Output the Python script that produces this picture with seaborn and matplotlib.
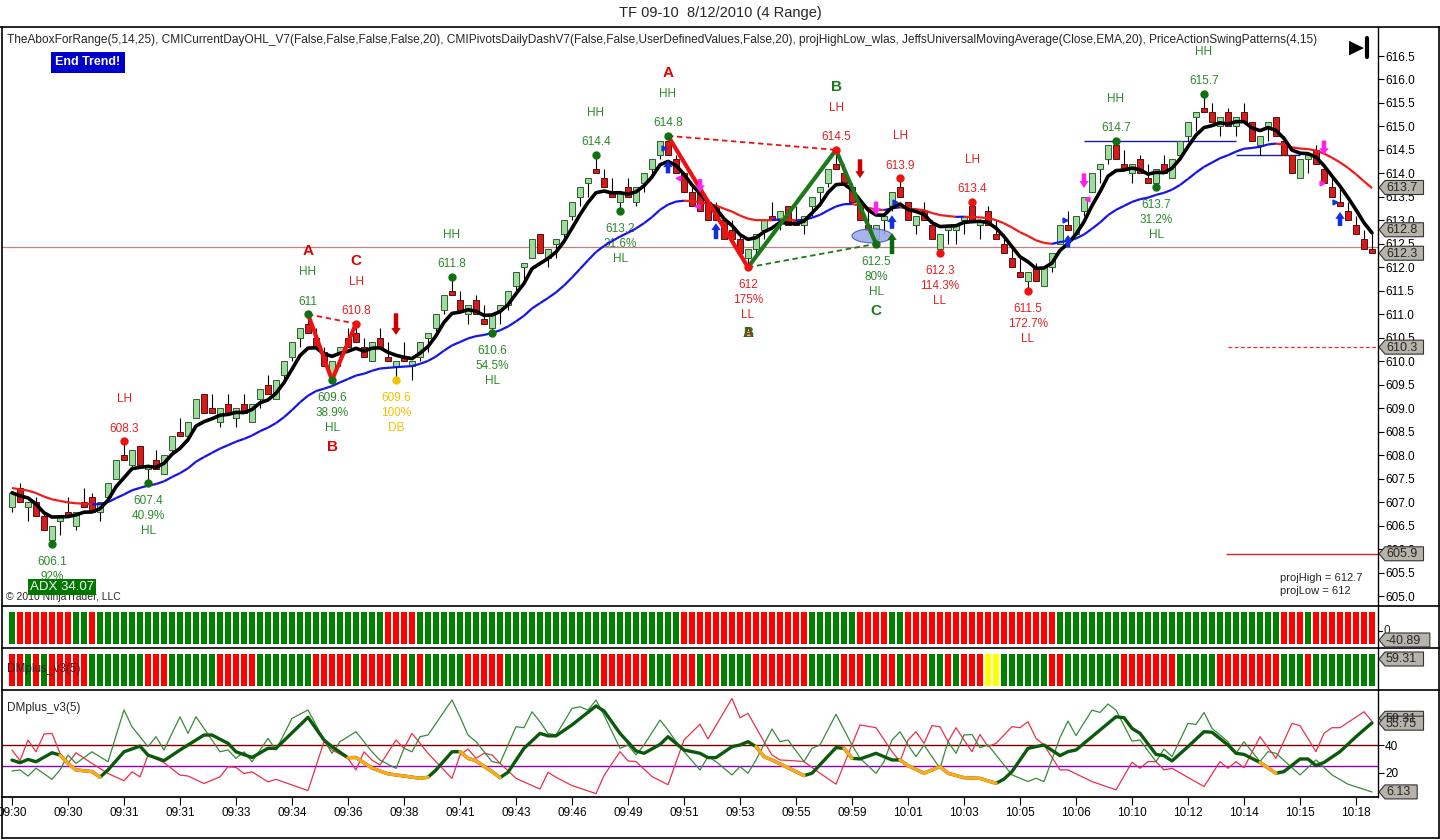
import numpy as np
import pandas as pd
import matplotlib
matplotlib.use("Agg")
import matplotlib.pyplot as plt
import seaborn as sns
from matplotlib.collections import LineCollection
from matplotlib.patches import Ellipse, Polygon
from matplotlib.lines import Line2D

# ---------------- data ----------------
title = "TF 09-10  8/12/2010 (4 Range)"
indicators = ("TheAboxForRange(5,14,25), CMICurrentDayOHL_V7(False,False,False,False,20), "
              "CMIPivotsDailyDashV7(False,False,UserDefinedValues,False,20), projHighLow_wlas, "
              "JeffsUniversalMovingAverage(Close,EMA,20), PriceActionSwingPatterns(4,15)")

RANGE = 0.4  # 4 range bars, tick 0.1

opens = [
    606.9, 607.3, 606.9, 607.0, 606.7, 606.2, 606.6, 606.8, 606.5, 607.0,
    607.1, 606.8, 607.1, 607.5, 608.0, 607.8, 608.2, 607.7, 607.9, 607.6,
    608.1, 608.5, 608.4, 608.8, 609.3, 609.0, 608.7, 609.1, 608.8, 609.1,
    608.7, 609.2, 609.5, 609.2, 609.7, 610.1, 610.5, 610.8, 610.5, 610.2,
    609.7, 610.2, 610.5, 610.6, 610.3, 610.0, 610.5, 610.1, 609.9, 610.1,
    609.9, 610.1, 610.5, 610.7, 611.1, 611.5, 611.3, 611.0, 611.3, 610.9,
    610.7, 611.1, 611.2, 611.6, 612.0, 612.2, 612.7, 612.2, 612.5, 612.7,
    613.1, 613.5, 613.8, 614.1, 613.9, 613.6, 613.4, 613.7, 613.4, 613.8,
    614.1, 614.4, 614.7, 614.3, 614.0, 613.6, 613.6, 613.4, 613.3, 613.0,
    612.8, 612.6, 612.2, 612.4, 612.8, 613.1, 613.0, 613.3, 613.0, 612.9,
    613.3, 613.6, 613.8, 614.2, 614.0, 613.7, 613.4, 612.9, 612.6, 613.0,
    613.3, 613.7, 613.4, 612.9, 613.2, 612.9, 612.4, 612.8, 612.8, 613.0,
    613.3, 612.9, 613.2, 612.7, 612.5, 612.2, 611.9, 611.7, 612.0, 611.6,
    612.0, 612.5, 612.9, 612.7, 613.2, 613.6, 614.1, 614.3, 614.6, 614.2,
    614.0, 614.3, 613.9, 613.8, 614.2, 613.9, 614.4, 614.8, 615.2, 615.4,
    615.3, 615.0, 615.3, 615.0, 615.3, 615.1, 614.6, 615.0, 615.2, 614.7,
    614.4, 613.9, 614.3, 614.5, 614.1, 613.7, 613.4, 613.2, 612.9, 612.6,
    612.4]
closes = [
    607.2, 607.0, 607.0, 606.7, 606.4, 606.5, 606.7, 606.7, 606.8, 606.9,
    606.8, 607.0, 607.4, 607.9, 607.9, 608.1, 607.8, 607.8, 607.7, 608.0,
    608.4, 608.4, 608.7, 609.2, 608.9, 608.9, 609.0, 608.9, 609.0, 608.9,
    609.1, 609.4, 609.3, 609.6, 610.0, 610.4, 610.7, 610.6, 610.3, 609.9,
    610.0, 610.3, 610.3, 610.4, 610.1, 610.4, 610.3, 610.0, 610.0, 610.0,
    610.0, 610.4, 610.6, 611.0, 611.4, 611.4, 611.1, 611.2, 611.0, 610.8,
    611.0, 611.2, 611.5, 611.9, 612.1, 612.6, 612.3, 612.4, 612.6, 613.0,
    613.4, 613.7, 613.9, 614.0, 613.7, 613.5, 613.6, 613.5, 613.7, 614.0,
    614.3, 614.7, 614.4, 614.0, 613.6, 613.3, 613.2, 613.0, 613.0, 612.6,
    612.6, 612.3, 612.4, 612.7, 613.0, 613.0, 613.2, 612.9, 612.9, 613.1,
    613.5, 613.7, 614.1, 614.1, 613.8, 613.4, 613.0, 612.8, 612.9, 613.1,
    613.6, 613.5, 613.0, 613.1, 613.0, 612.6, 612.7, 612.9, 612.9, 613.1,
    613.0, 613.0, 612.9, 612.6, 612.3, 612.0, 611.8, 611.9, 611.7, 612.0,
    612.3, 612.9, 612.8, 613.1, 613.5, 614.0, 614.2, 614.6, 614.3, 614.1,
    614.2, 614.0, 613.8, 614.1, 614.0, 614.3, 614.7, 615.1, 615.3, 615.3,
    615.1, 615.2, 615.0, 615.2, 615.1, 614.7, 614.8, 615.1, 614.8, 614.4,
    614.0, 614.3, 614.4, 614.2, 613.8, 613.5, 613.3, 613.0, 612.7, 612.4,
    612.3]

time_labels = ["09:30", "09:30", "09:31", "09:31", "09:33", "09:34", "09:36", "09:38", "09:41",
               "09:43", "09:46", "09:49", "09:51", "09:53", "09:55", "09:59", "10:01", "10:03",
               "10:05", "10:06", "10:10", "10:12", "10:14", "10:15", "10:18"]

# moving averages: starting values as seen at the left edge
fast_span, fast_seed = 5, 607.2
slow_span, slow_seed = 20, 607.3

# swing points
high_bars = [14, 37, 43, 55, 73, 82, 103, 111, 120, 138, 149]
high_prices = [608.3, 611.0, 610.8, 611.8, 614.4, 614.8, 614.5, 613.9, 613.4, 614.7, 615.7]
high_tags = ["LH", "HH", "LH", "HH", "HH", "HH", "LH", "LH", "LH", "HH", "HH"]
high_letters = ["", "A", "C", "", "", "A", "B", "", "", "", ""]
high_letter_colors = ["", "red", "red", "", "", "red", "green", "", "", "", ""]

low_bars = [5, 17, 40, 48, 60, 76, 92, 108, 116, 127, 143]
low_prices = [606.1, 607.4, 609.6, 609.6, 610.6, 613.2, 612.0, 612.5, 612.3, 611.5, 613.7]
low_pcts = ["92%", "40.9%", "38.9%", "100%", "54.5%", "31.6%", "175%", "80%", "114.3%", "172.7%", "31.2%"]
low_tags = ["", "HL", "HL", "DB", "HL", "HL", "LL", "HL", "LL", "LL", "HL"]
low_letters = ["", "", "B", "", "", "", "AB", "C", "", "", ""]

# ABC patterns
pat1_bars, pat1_prices = [37, 40, 43], [611.0, 609.6, 610.8]
pat2_red_bars, pat2_red_prices = [82, 92], [614.8, 612.0]
pat2_green_bars, pat2_green_prices = [92, 103, 108], [612.0, 614.5, 612.5]

# signal arrows: bar, tail price, tip price
arrow_bars = [48, 82, 88, 106, 108, 110, 110, 132, 134, 164, 166, 86]
arrow_tails = [611.02, 614.0, 612.6, 614.3, 613.4, 612.82, 612.28, 612.42, 614.0, 614.7, 612.88, 613.88]
arrow_tips = [610.56, 614.28, 612.94, 613.9, 613.11, 613.11, 612.73, 612.69, 613.69, 614.39, 613.18, 613.6]
arrow_colors = ["#cc0000", "#1030e0", "#1030e0", "#cc0000", "#ff22ee", "#1030e0", "#0a6a0a",
                "#1030e0", "#ff22ee", "#ff22ee", "#1030e0", "#ff22ee"]

# small triangles
tri_bars = [81.5, 110.4, 131.6, 165.4, 83.3, 85.6, 134.4, 163.8]
tri_prices = [614.55, 613.4, 613.0, 613.4, 613.9, 613.3, 613.45, 613.8]
tri_markers = [">", ">", ">", ">", "<", "<", "<", ">"]
tri_colors = ["#1030e0"] * 4 + ["#ff22ee"] * 4

# horizontal levels
ref_level = 612.44
proj_levels = [610.3, 605.9]
blue_levels = [614.7, 614.4]
blue_level_spans = [(134, 153), (153, 161)]
price_tags = [613.7, 612.8, 612.3, 610.3, 605.9]

# DMplus_v3(5) panel (vertices)
dip_bars = [0, 1, 2, 3, 5, 6, 7, 8, 10, 12, 14, 15, 17, 18, 19, 21, 22, 23, 26, 27, 28, 29, 30, 32, 33,
            35, 37, 39, 40, 41, 43, 45, 46, 48, 49, 50, 51, 52, 55, 56, 57, 58, 60, 61, 63, 64, 65, 66,
            67, 68, 70, 71, 72, 73, 74, 76, 77, 78, 79, 81, 82, 83, 84, 86, 87, 88, 90, 91, 92, 93, 95,
            96, 97, 99, 100, 101, 103, 105, 106, 108, 109, 110, 111, 112, 113, 114, 116, 117, 118, 119,
            120, 121, 122, 125, 127, 128, 129, 131, 132, 133, 135, 136, 137, 138, 140, 141, 143, 144,
            145, 147, 148, 149, 150, 152, 153, 154, 156, 157, 158, 161, 163, 165, 167, 170]
dip_vals = [21.2, 22, 17.6, 23.3, 15.2, 22, 32.7, 26.7, 35.1, 27.9, 65.3, 53.2, 38.8, 46, 36.4, 60.4,
            48.4, 60.4, 35.1, 36.4, 30.3, 35.1, 27.9, 44.8, 36.4, 59.2, 65.3, 43.6, 34, 42.4, 49.6,
            35.1, 29.1, 23.1, 37.6, 35.1, 46, 47.2, 72.5, 60.4, 47.2, 42.4, 28, 26.8, 53.2, 52.5, 64,
            56.8, 48.4, 47.2, 66.4, 67.6, 65.2, 72.4, 61.6, 37.6, 40, 32.8, 40, 58, 50.8, 42.4, 35.2,
            22, 31.6, 28, 18.4, 24.4, 19.6, 29.2, 51.6, 42.4, 43.6, 28, 37.6, 40, 62.2, 40, 30.4,
            19.6, 28, 43.6, 49.6, 40, 31.6, 40, 23.2, 42.4, 34, 47.2, 47.6, 38.1, 40, 18.4, 13.6, 16,
            13.6, 45.4, 57.3, 46.8, 65.2, 63.5, 69.6, 65.2, 42.8, 43.6, 28, 37.1, 31.6, 55.6, 54.9,
            63.5, 52, 42.4, 34, 42.4, 28, 35.2, 34, 18.4, 29.2, 18.4, 11.7, 6.1]

dim_bars = [0, 1, 2, 3, 4, 5, 6, 7, 8, 10, 12, 14, 15, 16, 17, 19, 21, 22, 24, 26, 27, 28, 29, 30, 32,
            33, 37, 39, 40, 42, 43, 44, 45, 46, 48, 49, 50, 52, 53, 55, 56, 57, 58, 59, 60, 61, 63, 66,
            67, 68, 70, 73, 74, 76, 77, 78, 80, 82, 84, 86, 87, 90, 91, 92, 94, 95, 96, 98, 99, 101,
            103, 106, 108, 110, 111, 112, 113, 114, 115, 116, 117, 118, 119, 120, 121, 122, 123, 125,
            126, 127, 128, 129, 131, 132, 135, 138, 140, 141, 142, 143, 144, 145, 149, 151, 152, 153,
            154, 156, 158, 160, 161, 163, 164, 165, 166, 169, 170]
dim_vals = [36.4, 28.7, 43.6, 35.1, 47.9, 48.4, 34, 26.7, 34.4, 26.7, 19.4, 14.2, 20.6, 17, 32.7,
            27.2, 18.3, 17.6, 12.2, 17, 24.3, 23.8, 19.4, 20.6, 13.4, 15.2, 7.1, 42.4, 36.4, 30.3, 22,
            35.1, 29.1, 25.5, 43.6, 37.6, 48.4, 34, 27.9, 15.9, 32.8, 37.1, 30.4, 34, 32.8, 26.8, 15.9,
            8.2, 20.3, 16.7, 10.7, 4.9, 17.9, 35.2, 28.5, 28, 17.2, 11.3, 43.6, 55, 44.4, 73.6, 59.7,
            62.8, 42.4, 32.8, 29.2, 28.5, 28, 19.6, 11.7, 54.5, 52.5, 35.2, 28, 43.6, 49.6, 41.2, 54,
            53.2, 42.4, 52.5, 43.6, 35.2, 47.6, 38.8, 41.2, 53.2, 52.5, 56.8, 44.8, 40, 22, 22, 13.6,
            7.6, 27.6, 23.2, 28, 28, 22, 23.2, 10, 28, 23.2, 28, 23.6, 46, 30.4, 55.6, 54, 35.2, 48.4,
            52.5, 52.5, 64, 57]

adx_bars = [0, 1, 2, 3, 5, 6, 7, 8, 10, 11, 12, 14, 16, 17, 19, 21, 24, 25, 27, 28, 30, 32, 33, 37,
            39, 40, 42, 43, 45, 47, 49, 51, 52, 53, 55, 56, 57, 58, 60, 61, 62, 64, 66, 67, 68, 70, 73,
            74, 76, 78, 79, 81, 82, 83, 84, 86, 87, 88, 90, 91, 92, 93, 94, 95, 97, 99, 100, 103, 104,
            105, 106, 108, 110, 111, 112, 114, 116, 117, 119, 121, 123, 124, 125, 127, 129, 131, 132,
            133, 135, 138, 139, 140, 141, 143, 144, 145, 147, 149, 150, 152, 153, 154, 156, 158, 159,
            161, 162, 163, 164, 166, 168, 170]
adx_vals = [29.1, 27.2, 29.6, 27.9, 34.4, 32.7, 26.7, 22, 20.8, 16.7, 22, 35.1, 39.2, 32.7, 28.7,
            36.4, 47.2, 47.2, 41.2, 35.1, 31, 37.6, 37.6, 60, 43.6, 38.8, 30.8, 31, 23.3, 19.2, 17.6,
            16, 16.7, 22, 35.1, 35.2, 30.4, 28.5, 20.8, 16.4, 20.3, 37.6, 48.4, 46.6, 46.6, 54.5, 68.2,
            64.6, 48.4, 35.7, 34, 40.4, 46, 41.2, 36.4, 34, 30.9, 30.9, 38.8, 40, 42.4, 38.8, 31.6,
            29.2, 23.6, 17.9, 19.6, 38.1, 37.6, 30.4, 29.9, 34, 29.2, 29.2, 25.1, 19.6, 24.4, 19.6,
            16.4, 15.9, 12.3, 15.4, 20.8, 37.6, 40, 32.3, 35.2, 36.4, 46, 60.4, 59.7, 52, 48.4, 33.2,
            32.3, 28.5, 38.8, 49.6, 49.2, 40, 34, 33.2, 27.4, 19.6, 20.8, 29.9, 29.9, 25.1, 27.4,
            35.2, 46, 56]
adx_orange_runs = [(6, 11), (42, 52), (56, 61), (93, 99), (104, 105), (111, 123), (156, 158)]
dm_levels = [40, 25]
dm_tags = [59.31, 55.75, 6.13]

# colour strips (runs of G/R/Y per bar)
strip1_runs = [("G", 1), ("R", 7), ("G", 2), ("R", 1), ("G", 36), ("R", 4), ("G", 33), ("R", 16),
               ("G", 6), ("R", 4), ("G", 2), ("R", 19), ("G", 28), ("R", 3), ("G", 1), ("R", 8)]
strip2_runs = [("R", 2), ("G", 1), ("R", 1), ("G", 1), ("R", 5), ("G", 7), ("R", 3), ("G", 6), ("R", 5),
               ("G", 7), ("R", 5), ("G", 1), ("R", 4), ("G", 1), ("R", 1), ("G", 1), ("R", 1), ("G", 5),
               ("R", 5), ("G", 5), ("R", 1), ("G", 6), ("R", 6), ("G", 3), ("R", 3), ("G", 1), ("R", 2),
               ("G", 4), ("R", 7), ("G", 4), ("R", 3), ("G", 2), ("R", 2), ("G", 1), ("R", 3), ("G", 2),
               ("R", 1), ("G", 1), ("R", 3), ("Y", 2), ("G", 6), ("R", 2), ("G", 7), ("R", 7), ("G", 5),
               ("R", 8), ("G", 3), ("R", 1), ("G", 8)]
strip1_tag = "-40.89"
strip2_tag = "59.31"

# ---------------- helpers ----------------
W, H = 1440, 840


def fx(px):
    return px / W


def fy(py):
    return 1 - py / H


def ema(values, span, seed):
    alpha = 2.0 / (span + 1)
    out = [seed]
    for v in values[1:]:
        out.append(out[-1] + alpha * (v - out[-1]))
    return np.array(out)


def expand(runs):
    out = []
    for c, n in runs:
        out += [c] * n
    return out


GREEN_TXT = "#2a8a2a"
RED_TXT = "#e02020"
GOLD_TXT = "#f2c200"
STRIP_COL = {"G": "#008000", "R": "#ff0000", "Y": "#ffff00"}

sns.set_theme(style="white")
plt.rcParams['font.family'] = ['Liberation Sans', 'DejaVu Sans']

df = pd.DataFrame({"open": opens, "close": closes})
df["bar"] = np.arange(len(df))
df["bull"] = df["close"] > df["open"]
df["high"] = np.where(df["bull"], df["close"], df["close"] + RANGE)
df["low"] = np.where(df["bull"], df["close"] - RANGE, df["close"])
df["high"] = df[["high", "open"]].max(axis=1)
df["low"] = df[["low", "open"]].min(axis=1)
df["fast"] = ema(closes, fast_span, fast_seed)
df["slow"] = ema(closes, slow_span, slow_seed)

fig = plt.figure(figsize=(14.4, 8.4), dpi=100)
fig.patch.set_facecolor("white")


def add_panel(top, bottom):
    return fig.add_axes([fx(2), fy(bottom), fx(1378) - fx(2), (bottom - top) / H])


ax = add_panel(27, 606)
ax_s1 = add_panel(606, 648)
ax_s2 = add_panel(648, 690)
ax_dm = add_panel(690, 797)
XLIM = ((2 - 12) / 8, (1378 - 12) / 8)

for a in (ax, ax_s1, ax_s2, ax_dm):
    a.set_facecolor("white")
    for s in ("top", "left", "bottom"):
        a.spines[s].set_visible(False)
    a.spines["right"].set_color("black")
    a.spines["right"].set_linewidth(1)
    a.grid(False)

# ---------------- price panel ----------------
ax.axhline(ref_level, color="#c48080", lw=0.9, zorder=1)
ax.hlines(proj_levels[0], 152, XLIM[1], colors="#e03030", linestyles=(0, (3, 2)), lw=0.9, zorder=1)
ax.hlines(proj_levels[1], 151.75, XLIM[1], colors="#e02020", lw=1.0, zorder=1)
for lvl, (a0, a1) in zip(blue_levels, blue_level_spans):
    ax.hlines(lvl, a0, a1, colors="#1a1aa8", lw=1.0, zorder=2)

ax.vlines(df["bar"], df["low"], df["high"], color="black", lw=0.8, zorder=3)
body = (df["close"] - df["open"]).abs().clip(lower=0.025)
ax.bar(df["bar"], body, bottom=df[["open", "close"]].min(axis=1), width=0.72,
       color=np.where(df["bull"], "#9edb9e", "#d41c1c"),
       edgecolor=np.where(df["bull"], "#2f5f2f", "#5a1010"), lw=0.7, zorder=4)

# slow EMA coloured by slope
slow = df["slow"].values
segs = [[(i, slow[i]), (i + 1, slow[i + 1])] for i in range(len(slow) - 1)]
seg_cols = ["#1515e8" if slow[i + 1] >= slow[i] else "#ee1c1c" for i in range(len(slow) - 1)]
ax.add_collection(LineCollection(segs, colors=seg_cols, lw=1.6, zorder=5))
sns.lineplot(data=df, x="bar", y="fast", ax=ax, color="black", lw=2.6, zorder=6, legend=False)

# patterns
ax.plot(pat1_bars, pat1_prices, color="#ee1111", lw=3, zorder=7, solid_capstyle="round")
ax.plot([pat1_bars[0], pat1_bars[2]], [pat1_prices[0], pat1_prices[2]], color="#ee1111", lw=1.3,
        ls=(0, (3, 2)), zorder=7)
ax.plot(pat2_red_bars, pat2_red_prices, color="#ee1111", lw=3, zorder=7)
ax.plot(pat2_green_bars, pat2_green_prices, color="#1a7a1a", lw=3, zorder=7)
ax.plot([pat2_red_bars[0], pat2_green_bars[1]], [pat2_red_prices[0], pat2_green_prices[1]],
        color="#ee1111", lw=1.3, ls=(0, (3, 2)), zorder=7)
ax.plot([pat2_green_bars[0], pat2_green_bars[2]], [pat2_green_prices[0], pat2_green_prices[2]],
        color="#1a7a1a", lw=1.3, ls=(0, (3, 2)), zorder=7)
ax.add_patch(Ellipse((107.5, 612.67), 5.0, 0.3, fc="#9aa6e8", ec="#4050c0", lw=0.8, alpha=0.85, zorder=6))

PT = 0.72  # px -> pt
for b, p, tag, let, lc in zip(high_bars, high_prices, high_tags, high_letters, high_letter_colors):
    col = GREEN_TXT if tag == "HH" else RED_TXT
    ax.plot(b, p, "o", ms=5, color="#107010" if tag == "HH" else "#ee1111", zorder=8)
    ax.annotate(f"{p:g}", (b, p), xytext=(0, 12.5 * PT), textcoords="offset points",
                ha="center", va="center", color=col, fontsize=8.5)
    ax.annotate(tag, (b, p), xytext=(0, 42 * PT), textcoords="offset points",
                ha="center", va="center", color=col, fontsize=8.5)
    if let:
        ax.annotate(let, (b, p), xytext=(0, 63 * PT), textcoords="offset points", ha="center",
                    va="center", color="#e00000" if lc == "red" else "#1a7a1a", fontsize=11,
                    fontweight="bold")

for b, p, pct, tag, let in zip(low_bars, low_prices, low_pcts, low_tags, low_letters):
    col = {"LL": RED_TXT, "DB": GOLD_TXT}.get(tag, GREEN_TXT)
    dot = {"LL": "#ee1111", "DB": "#f2c200"}.get(tag, "#107010")
    ax.plot(b, p, "o", ms=5, color=dot, zorder=8)
    for k, line in enumerate([f"{p:g}", pct, tag]):
        if line:
            ax.annotate(line, (b, p), xytext=(0, -(18 + 15 * k) * PT), textcoords="offset points",
                        ha="center", va="center", color=col, fontsize=8.5)
    if let == "B":
        ax.annotate("B", (b, p), xytext=(0, -67 * PT), textcoords="offset points", ha="center",
                    va="center", color="#e00000", fontsize=11, fontweight="bold")
    elif let == "AB":
        ax.annotate("A", (b, p), xytext=(0, -66 * PT), textcoords="offset points", ha="center",
                    va="center", color="#e00000", fontsize=11, fontweight="bold")
        ax.annotate("B", (b, p), xytext=(0, -66 * PT), textcoords="offset points", ha="center",
                    va="center", color="#1a7a1a", fontsize=10, fontweight="bold")
    elif let == "C":
        ax.annotate("C", (b, p), xytext=(0, -67 * PT), textcoords="offset points", ha="center",
                    va="center", color="#1a7a1a", fontsize=11, fontweight="bold")

for b, t0, t1, c in zip(arrow_bars, arrow_tails, arrow_tips, arrow_colors):
    ax.annotate("", xy=(b, t1), xytext=(b, t0),
                arrowprops=dict(arrowstyle="simple,head_width=0.75,head_length=0.55,tail_width=0.36",
                                color=c, lw=0, mutation_scale=9, shrinkA=0, shrinkB=0), zorder=9)
for b, p, m, c in zip(tri_bars, tri_prices, tri_markers, tri_colors):
    ax.plot(b, p, marker=m, ms=3.5, color=c, zorder=9)

ax.set_xlim(*XLIM)
ax.set_ylim(616.5 - (606 - 56) / 46.96, 616.5 + (56 - 27) / 46.96)
ax.set_xticks([])
ax.yaxis.tick_right()
yt = np.arange(605.0, 616.51, 0.5)
ax.set_yticks(yt)
ax.set_yticklabels([f"{v:.1f}" for v in yt])
ax.tick_params(axis="y", right=True, direction="out", length=4, width=0.8, pad=1,
               labelsize=8.5, colors="black")
ax.set_xlabel("")
ax.set_ylabel("")

# ---------------- colour strips ----------------
for a, runs in ((ax_s1, strip1_runs), (ax_s2, strip2_runs)):
    cols = [STRIP_COL[c] for c in expand(runs)]
    a.bar(np.arange(len(cols)), 1, width=0.84, color=cols, lw=0)
    a.set_xlim(*XLIM)
    a.set_ylim(-4 / 32.3, 1 + 5.7 / 32.3)
    a.set_xticks([])
    a.set_yticks([])

# ---------------- DMplus panel ----------------
for lvl, c in zip(dm_levels, ["#800000", "#8c00c8"]):
    ax_dm.axhline(lvl, color=c, lw=1.0, zorder=1)
sns.lineplot(x=dim_bars, y=dim_vals, ax=ax_dm, color="#e8304c", lw=0.9, zorder=2)
sns.lineplot(x=dip_bars, y=dip_vals, ax=ax_dm, color="#3a8a3a", lw=0.9, zorder=3)
sns.lineplot(x=adx_bars, y=adx_vals, ax=ax_dm, color="#0b5a0b", lw=2.4, zorder=4)
adx = pd.Series(adx_vals, index=adx_bars)
for a0, a1 in adx_orange_runs:
    part = adx[(adx.index >= a0) & (adx.index <= a1)]
    ax_dm.plot(part.index, part.values, color="#ffa81a", lw=2.4, zorder=5, solid_capstyle="round")
ax_dm.set_xlim(*XLIM)
ax_dm.set_ylim((800.4 - 797) / 1.385, (800.4 - 690) / 1.385)
ax_dm.spines["bottom"].set_visible(True)
ax_dm.spines["bottom"].set_color("black")
ax_dm.yaxis.tick_right()
ax_dm.set_yticks([20, 40])
ax_dm.set_yticklabels(["20", "40"])
ax_dm.set_xticks(np.arange(0, 169, 7))
ax_dm.set_xticklabels(time_labels)
ax_dm.tick_params(axis="x", bottom=True, direction="out", length=6, width=0.8, pad=1,
                  labelsize=8.5, colors="black")
ax_dm.tick_params(axis="y", right=True, direction="out", length=4, width=0.8, pad=1,
                  labelsize=8.5, colors="black")
ax_dm.set_xlabel("")
ax_dm.set_ylabel("")

# ---------------- value tags on the right ----------------


def tag_at(yc, text):
    w = 7 + 6.3 * len(text)
    pts = [(1379, yc), (1385, yc - 7), (1385 + w, yc - 7), (1385 + w, yc + 7), (1385, yc + 7)]
    fig.add_artist(Polygon([(fx(x), fy(y)) for x, y in pts], closed=True, transform=fig.transFigure,
                           fc="#b6b3aa", ec="#333333", lw=0.8, zorder=10))
    fig.text(fx(1386), fy(yc + 0.5), text, ha="left", va="center", fontsize=9, zorder=11)


def ypix(a, v):
    return H - a.transData.transform((0, v))[1]


for v in price_tags:
    tag_at(ypix(ax, v), f"{v:.1f}")
fig.text(fx(1384), fy(631), "0", ha="left", va="center", fontsize=8.5)
fig.add_artist(Line2D([fx(1378), fx(1382)], [fy(631), fy(631)], color="black", lw=0.8))
tag_at(640, strip1_tag)
tag_at(659, strip2_tag)
for v in dm_tags:
    tag_at(ypix(ax_dm, v), f"{v:.2f}")

# ---------------- frame and texts ----------------
frame = [((0, 27), (1440, 27)), ((2, 27), (2, 838)), ((1439, 27), (1439, 838)), ((2, 838), (1439, 838)),
         ((2, 606), (1439, 606)), ((2, 648), (1439, 648)), ((2, 690), (1439, 690))]
for (x0, y0), (x1, y1) in frame:
    fig.add_artist(Line2D([fx(x0), fx(x1)], [fy(y0), fy(y1)], color="black", lw=1.2))

fig.text(fx(720), fy(13), title, ha="center", va="center", fontsize=10.5)
fig.text(fx(7), fy(40), indicators, ha="left", va="center", fontsize=8.6,
         family=["Liberation Sans Narrow", "Liberation Sans", "DejaVu Sans"])
fig.text(fx(55), fy(62), "End Trend!", ha="left", va="center", color="white", fontsize=9,
         fontweight="bold", bbox=dict(facecolor="#0000cc", edgecolor="none", pad=3.2))
fig.text(fx(1349), fy(47), "\u25B6", ha="left", va="center", fontsize=14, color="black",
         family=["DejaVu Sans"])
fig.add_artist(Line2D([fx(1367), fx(1367)], [fy(38), fy(57)], color="black", lw=3))
fig.text(fx(6), fy(597), "\u00a9 2010 NinjaTrader, LLC", ha="left", va="center", fontsize=7.5)
fig.text(fx(30), fy(587), "ADX 34.07", ha="left", va="center", color="white", fontsize=9.5,
         bbox=dict(facecolor="#007800", edgecolor="none", pad=1.5))
fig.text(fx(1280), fy(578), "projHigh = 612.7", ha="left", va="center", fontsize=8)
fig.text(fx(1280), fy(591), "projLow = 612", ha="left", va="center", fontsize=8)
fig.text(fx(7), fy(669), "DMplus_v3(5)", ha="left", va="center", fontsize=8.5)
fig.text(fx(7), fy(708), "DMplus_v3(5)", ha="left", va="center", fontsize=8.5)

fig.savefig("out.png", dpi=100, facecolor="white")
